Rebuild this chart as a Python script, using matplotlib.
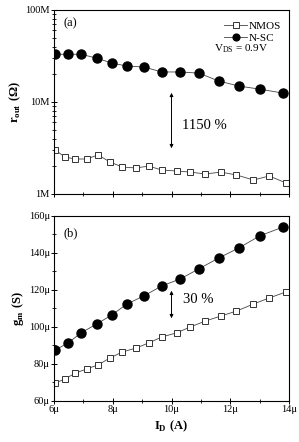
import matplotlib.pyplot as plt
from matplotlib.ticker import FixedLocator, NullFormatter

plt.rcParams['font.family'] = ['Liberation Serif', 'DejaVu Serif']
plt.rcParams['mathtext.fontset'] = 'custom'
plt.rcParams['mathtext.rm'] = 'Liberation Serif'
plt.rcParams['mathtext.bf'] = 'Liberation Serif:bold'

# drain current (uA)
id_nmos = [6.05, 6.37, 6.73, 7.11, 7.50, 7.90, 8.33, 8.79, 9.23, 9.67,
           10.17, 10.64, 11.15, 11.68, 12.21, 12.79, 13.33, 13.89]
id_nsc = [6.05, 6.48, 6.92, 7.45, 7.97, 8.48, 9.06, 9.67, 10.29, 10.93,
          11.61, 12.29, 13.0, 13.79]

# output resistance (MOhm)
rout_nmos = [3.0, 2.52, 2.40, 2.40, 2.66, 2.23, 1.96, 1.92, 2.01, 1.82,
             1.78, 1.73, 1.65, 1.73, 1.61, 1.42, 1.57, 1.32]
rout_nsc = [33, 33, 33, 30, 26.5, 24.6, 24, 21.2, 21.2, 20.6, 16.9, 14.9, 13.8, 12.5]

# transconductance (uS)
gm_nmos = [69.7, 71.9, 75.1, 77.3, 79.5, 83.2, 86.5, 88.6, 91.4, 94.6,
           96.8, 100, 103.2, 105.9, 108.6, 112.4, 115.7, 118.9]
gm_nsc = [87.6, 91.4, 96.8, 101.6, 106.5, 112.4, 116.8, 122.2, 125.9, 131.4,
          137.3, 142.7, 149.2, 154]

fig = plt.figure(figsize=(2.99, 4.42), dpi=100)
ax1 = fig.add_axes([0.1806, 0.5611, 0.786, 0.4163])
ax2 = fig.add_axes([0.1806, 0.0928, 0.786, 0.4186])

lw = 0.6
mk_sq = dict(marker='s', ms=5, mfc='white', mec='#333333', mew=0.7)
mk_ci = dict(marker='o', ms=6.5, mfc='black', mec='black')

x_nmos = [v * 1e-6 for v in id_nmos]
x_nsc = [v * 1e-6 for v in id_nsc]

ax1.plot(x_nmos, [v * 1e6 for v in rout_nmos], color='#444444', lw=lw, label='NMOS', **mk_sq)
ax1.plot(x_nsc, [v * 1e6 for v in rout_nsc], color='#444444', lw=lw, label='N-SC', **mk_ci)
ax1.set_yscale('log')
ax1.set_ylim(1e6, 1e8)
ax1.set_yticks([1e6, 1e7, 1e8])
ax1.set_yticklabels(['1M', '10M', '100M'])
ax1.yaxis.set_minor_formatter(NullFormatter())
ax1.set_ylabel(r'$\mathbf{r}_{\mathbf{out}}\ \mathbf{(\Omega)}$', fontsize=9, labelpad=2)

ax2.plot(x_nmos, [v * 1e-6 for v in gm_nmos], color='#444444', lw=lw, **mk_sq)
ax2.plot(x_nsc, [v * 1e-6 for v in gm_nsc], color='#444444', lw=lw, **mk_ci)
ax2.set_ylim(60e-6, 160e-6)
gm_ticks = [60, 80, 100, 120, 140, 160]
ax2.set_yticks([v * 1e-6 for v in gm_ticks])
ax2.set_yticklabels([f'{v}\u03bc' for v in gm_ticks])
ax2.yaxis.set_minor_locator(FixedLocator([v * 1e-6 for v in range(70, 160, 20)]))
ax2.set_ylabel(r'$\mathbf{g}_{\mathbf{m}}\ \mathbf{(S)}$', fontsize=9, labelpad=2)

x_ticks = [6, 8, 10, 12, 14]
for ax in (ax1, ax2):
    ax.set_xlim(6e-6, 14e-6)
    ax.set_xticks([v * 1e-6 for v in x_ticks])
    ax.xaxis.set_minor_locator(FixedLocator([v * 1e-6 for v in [7, 9, 11, 13]]))
    ax.tick_params(which='both', direction='inout', labelsize=7.5, pad=1,
                   top=False, right=False)
    ax.tick_params(which='major', length=4, width=0.7)
    ax.tick_params(which='minor', length=2.5, width=0.6)
    for s in ax.spines.values():
        s.set_linewidth(0.8)

ax1.set_xticklabels([])
ax2.set_xticklabels([f'{v}\u03bc' for v in x_ticks])
ax2.set_xlabel(r'$\mathbf{I}_{\mathbf{D}}\ \mathbf{(A)}$', fontsize=9, labelpad=3)

ax1.text(0.04, 0.91, '(a)', transform=ax1.transAxes, fontsize=9)
ax2.text(0.04, 0.89, '(b)', transform=ax2.transAxes, fontsize=9)

leg = ax1.legend(loc='upper right', frameon=False, fontsize=8, handlelength=2.0,
                 handletextpad=0.2, borderaxespad=0.3, labelspacing=0.2,
                 markerscale=0.75, bbox_to_anchor=(1.0, 0.98))
ax1.text(0.68, 0.775, r'V$_{\mathrm{DS}}$ = 0.9V', transform=ax1.transAxes, fontsize=8)

ax1.annotate('', xy=(10e-6, 2.93e6), xytext=(10e-6, 13.5e6),
             arrowprops=dict(arrowstyle='<|-|>', color='black', lw=0.7,
                             mutation_scale=5))
ax1.text(10.35e-6, 5.6e6, '1150 %', fontsize=10.5, va='center')

ax2.annotate('', xy=(10e-6, 103.2e-6), xytext=(10e-6, 121.1e-6),
             arrowprops=dict(arrowstyle='<|-|>', color='black', lw=0.7,
                             mutation_scale=5))
ax2.text(10.4e-6, 114.6e-6, '30 %', fontsize=10.5, va='center')

fig.savefig('out.png', dpi=100)
